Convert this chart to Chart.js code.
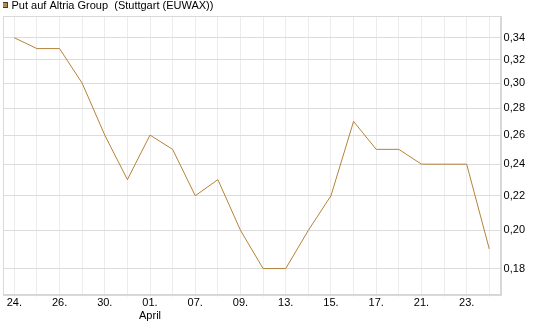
<!DOCTYPE html>
<html>
<head>
<meta charset="utf-8">
<script src="https://cdn.jsdelivr.net/npm/chart.js@4/dist/chart.umd.min.js"></script>
<style>
  html, body { margin: 0; padding: 0; background: #fff; }
  #chart { display: block; }
</style>
</head>
<body>
<canvas id="chart" width="545" height="327"></canvas>
<script>
// Handelstage 24.03. - 24.04. (Ostern ohne Handel)
const days = ['24.', '25.', '26.', '27.', '30.', '31.', '01.', '02.', '07.', '08.', '09.',
              '10.', '13.', '14.', '15.', '16.', '17.', '20.', '21.', '22.', '23.', '24.'];
const monthLabels = ['', '', '', '', '', '', 'April', '', '', '', '', '', '', '', '', '', '', '', '', '', '', ''];
const prices = [0.34, 0.33, 0.33, 0.30, 0.26, 0.23, 0.26, 0.25, 0.22, 0.23, 0.20,
                0.18, 0.18, 0.20, 0.22, 0.27, 0.25, 0.25, 0.24, 0.24, 0.24, 0.19];
const yTicks = [0.18, 0.20, 0.22, 0.24, 0.26, 0.28, 0.30, 0.32, 0.34];
const seriesName = 'Put auf Altria Group  (Stuttgart (EUWAX))';

const lineColor = '#b5823a';
const font = { family: "'Liberation Sans', Arial, sans-serif", size: 11 };

// kleines Kästchen für die Legende
const legendBox = document.createElement('canvas');
legendBox.width = 9;
legendBox.height = 7;
(() => {
    const c = legendBox.getContext('2d');
    c.fillStyle = '#b8894a';
    c.fillRect(2, 0, 6, 6);
    c.strokeStyle = '#4f3c24';
    c.lineWidth = 1;
    c.strokeRect(2.5, 0.5, 5, 5);
})();

// Legende flacher machen
const legendHeight = {
    id: 'legendHeight',
    beforeInit(chart) {
        const fit = chart.legend.fit;
        chart.legend.fit = function () {
            fit.bind(chart.legend)();
            this.height = 16;
        };
    }
};

// Rahmen um den Plotbereich
const frame = {
    id: 'frame',
    beforeDatasetsDraw(chart) {
        const { ctx, chartArea: a } = chart;
        ctx.save();
        ctx.strokeStyle = '#d9d9d9';
        ctx.lineWidth = 1;
        ctx.strokeRect(Math.round(a.left) + 0.5, Math.round(a.top) + 0.5,
                       Math.round(a.right - a.left), Math.round(a.bottom - a.top));
        ctx.restore();
    }
};

new Chart(document.getElementById('chart'), {
    type: 'line',
    data: {
        labels: days,
        datasets: [{
            label: seriesName,
            data: prices,
            borderColor: lineColor,
            backgroundColor: '#b8894a',
            borderWidth: 1,
            pointRadius: 0,
            pointStyle: legendBox,
            tension: 0,
            fill: false
        }]
    },
    options: {
        responsive: false,
        animation: false,
        layout: {
            padding: { left: 3, right: 17, top: 0, bottom: 5 }
        },
        plugins: {
            legend: {
                display: true,
                position: 'top',
                align: 'start',
                labels: {
                    usePointStyle: true,
                    boxWidth: 3,
                    boxHeight: 7,
                    padding: 0,
                    color: '#000',
                    font: font
                }
            },
            tooltip: { enabled: false }
        },
        scales: {
            x: {
                offset: true,
                grid: {
                    offset: false,
                    color: '#ececec',
                    tickLength: 2,
                    drawTicks: true
                },
                border: { display: true, color: '#d6d6d6' },
                ticks: {
                    autoSkip: false,
                    maxRotation: 0,
                    padding: 0,
                    color: '#000',
                    font: Object.assign({ lineHeight: 1.15 }, font),
                    callback: (v, i) => {
                        if (i % 2 !== 0) return '';
                        return monthLabels[i] ? [days[i], monthLabels[i]] : days[i];
                    }
                }
            },
            y: {
                type: 'logarithmic',
                position: 'right',
                min: 0.1675,
                max: 0.361,
                afterBuildTicks: scale => {
                    scale.ticks = yTicks.map(v => ({ value: v }));
                },
                grid: {
                    color: '#dcdcdc',
                    drawTicks: false
                },
                border: { display: true, color: '#d6d6d6' },
                ticks: {
                    padding: 3,
                    color: '#000',
                    font: font,
                    callback: v => v.toFixed(2).replace('.', ',')
                }
            }
        }
    },
    plugins: [legendHeight, frame]
});
</script>
</body>
</html>
